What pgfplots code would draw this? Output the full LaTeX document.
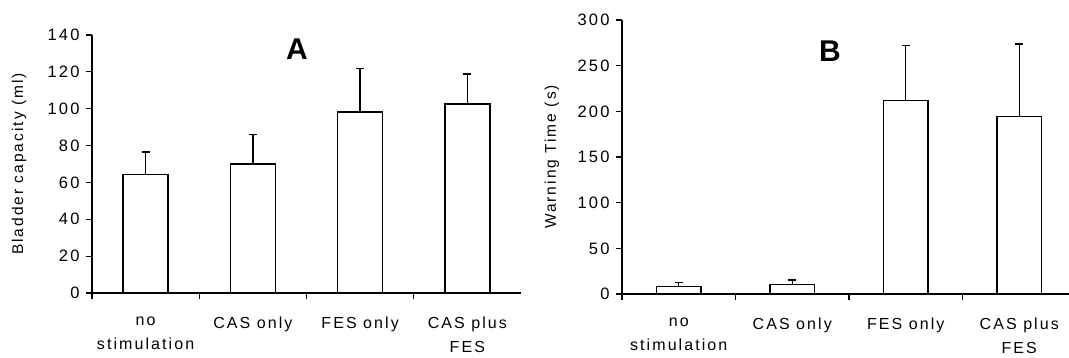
\documentclass[border=0pt]{standalone}
\usepackage{fontspec}
\setmainfont{Liberation Sans}[LetterSpace=13]
\newfontfamily\titlefont{Liberation Sans}
\usepackage{pgfplots}
\pgfplotsset{compat=1.18}
\begin{document}
\begin{tikzpicture}
\pgfplotsset{
 mystyle/.style={
  scale only axis,
  axis x line*=bottom, axis y line*=left,
  axis line style={line width=1.1pt, black},
  ybar,
  ymin=0, xmin=-0.5,
  xtick={0,1,2,3},
  xticklabels={no\\stimulation, CAS only, FES only, CAS plus\\FES},
  xticklabel style={align=center, font=\fontsize{16}{24}\selectfont, yshift=-14pt},
  major x tick style={draw=none},
  minor xtick={-0.5,0.5,1.5,2.5},
  minor x tick style={black, line width=1.1pt},
  y tick style={black, line width=1.1pt},
  tick align=outside,
  major tick length=6pt, minor tick length=6pt,
  yticklabel style={font=\fontsize{16.5}{16}\selectfont, xshift=-3pt},
  /pgf/number format/assume math mode=true,
  ylabel style={font=\fontsize{15.5}{16}\selectfont, anchor=center},
  title style={font=\titlefont\bfseries\fontsize{30}{30}\selectfont, anchor=center},
 },
 mybar/.style={fill=white, draw=black, line width=1.4pt,
   error bars/.cd, y dir=plus, y explicit,
   error bar style={line width=1.4pt, black},
   error mark options={rotate=90, mark size=4pt, line width=1.4pt, black}},
}
\begin{axis}[mystyle, at={(92pt,65pt)}, anchor=south west,
  width=429pt, height=258pt, xmax=3.5, ymax=140, ytick={0,20,...,140},
  bar width=0.42,
  ylabel={Bladder capacity (ml)}, ylabel style={at={(axis description cs:-0.170,0.5)}},
  title={A}, title style={at={(0.478,0.923)}}]
\addplot[mybar] coordinates {
 (0,64.4) +- (0,12.1)
 (1,70.0) +- (0,16.1)
 (2,98.2) +- (0,23.7)
 (3,102.5) +- (0,16.3)
};
\end{axis}
\begin{axis}[mystyle, at={(622pt,64pt)}, anchor=south west,
  width=447pt, height=274pt, xmax=3.438, ymax=300, ytick={0,50,...,300},
  bar width=0.39,
  ylabel={Warning Time (s)}, ylabel style={at={(axis description cs:-0.157,0.5)}},
  title={B}, title style={at={(0.465,0.865)}}]
\addplot[mybar] coordinates {
 (0,8.0) +- (0,4.8)
 (1,10.6) +- (0,4.7)
 (2,212.0) +- (0,60.0)
 (3,194.6) +- (0,79.2)
};
\end{axis}
\pgfresetboundingbox
\useasboundingbox (0pt,0pt) rectangle (1069pt,358pt);
\end{tikzpicture}
\end{document}
